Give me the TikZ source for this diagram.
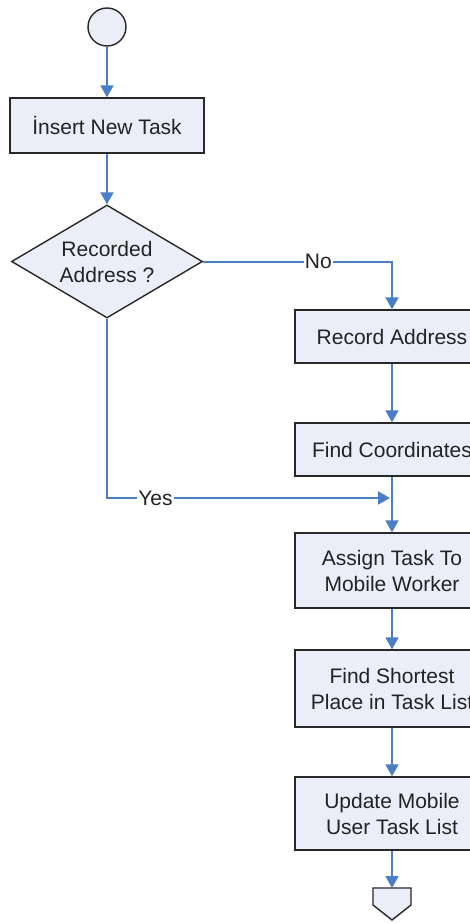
\documentclass[tikz,border=0pt]{standalone}
\usepackage{fontspec}
\setmainfont{Liberation Sans}
\usetikzlibrary{shapes.geometric,arrows.meta}
\definecolor{boxfill}{RGB}{233,238,248}
\definecolor{flow}{RGB}{74,126,199}
\definecolor{edge}{RGB}{40,40,40}
\definecolor{ink}{RGB}{35,35,35}
\begin{document}
\begin{tikzpicture}[x=1pt,y=-1pt,
  font=\fontsize{21}{26}\selectfont,
  shapeline/.style={draw=edge,line width=1.4pt,fill=boxfill,text=ink},
  proc/.style={shapeline,rectangle,minimum width=194pt,align=center,inner sep=0pt},
  flowline/.style={draw=flow,line width=2pt,-{Triangle[length=12pt,width=13pt]}},
  lbl/.style={fill=white,inner sep=1pt,text=ink}]
\clip (0,0) rectangle (470,923);
\fill[white] (0,0) rectangle (470,923);

% start terminal
\node[shapeline,circle,minimum size=38pt,inner sep=0pt] (start) at (107,27) {};

% left column
\node[proc,minimum height=55pt] (insert) at (107,125.5) {İnsert New Task};
\node[shapeline,diamond,aspect=1.69,minimum width=191pt,minimum height=113pt,inner sep=0pt,align=center]
  (dec) at (107,261.5) {Recorded\\Address ?};

% right column (boxes run past the right edge)
\node[proc,minimum height=53pt] (rec) at (392,336.5) {Record Address};
\node[proc,minimum height=53pt] (find) at (392,449.5) {Find Coordinates};
\node[proc,minimum height=75pt] (assign) at (392,570.5) {Assign Task To\\Mobile Worker};
\node[proc,minimum height=77pt] (short) at (392,688.5) {Find Shortest\\Place in Task List};
\node[proc,minimum height=73pt] (upd) at (392,813.5) {Update Mobile\\User Task List};

% off-page connector
\coordinate (off) at (392,888);
\draw[shapeline] (off) -- ++(19,0) -- ++(0,17) -- ++(-19,15) -- ++(-19,-15) -- ++(0,-17) -- cycle;

% junction where the "Yes" branch meets the main flow
\coordinate (join) at (392,498);

% connectors
\draw[flowline] (start) -- (insert);
\draw[flowline] (insert) -- (dec);
\draw[flowline] (dec.east) -- node[lbl,pos=0.61] {No} (rec.north |- dec.east) -- (rec.north);
\draw[flowline] (rec) -- (find);
\draw[flowline,shorten >=2pt] (dec.south) -- (dec.south |- join) -- node[lbl,pos=0.17] {Yes} (join);
\draw[flowline] (find) -- (assign);
\draw[flowline] (assign) -- (short);
\draw[flowline] (short) -- (upd);
\draw[flowline] (upd) -- (off);
\end{tikzpicture}
\end{document}
